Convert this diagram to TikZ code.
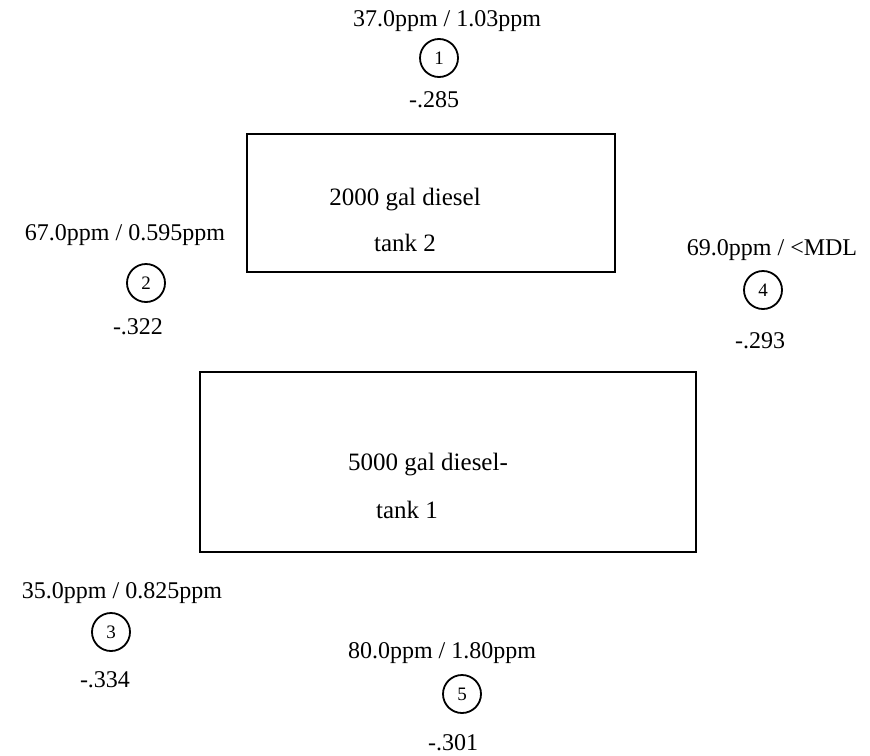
\documentclass[tikz,border=0pt]{standalone}
\usepackage{fontspec}
\setmainfont{Liberation Serif}
\usetikzlibrary{positioning}

\begin{document}
\begin{tikzpicture}[
    x=1pt, y=-1pt,
    on grid,
    tankbox/.style={draw, line width=1.6pt},
    well/.style={circle, draw, line width=1.8pt, minimum size=38pt, inner sep=0pt, font=\fontsize{19}{19}\selectfont},
    reading/.style={inner sep=0pt, font=\fontsize{24}{24}\selectfont},
    tanktext/.style={inner sep=0pt, font=\fontsize{25}{25}\selectfont},
]
\useasboundingbox (0,0) rectangle (870,755);

% tanks
\draw[tankbox] (247,134) rectangle (615,272);
\node[tanktext] (t2a) at (405,200) {2000 gal diesel};
\node[tanktext] (t2b) at (405,243) {tank 2};

\draw[tankbox] (200,372) rectangle (696,552);
\node[tanktext] (t1a) at (428,465) {5000 gal diesel-};
\node[tanktext] (t1b) at (407,510) {tank 1};

% wells
\node[well] (w1) at (439,58) {1};
\node[reading, above=37pt of w1, xshift=8pt] (r1) {37.0ppm / 1.03ppm};
\node[reading, below=42pt of w1, xshift=-5pt] (v1) {-.285};

\node[well] (w2) at (146,283) {2};
\node[reading, above=48pt of w2, xshift=-21pt] (r2) {67.0ppm / 0.595ppm};
\node[reading, below=44pt of w2, xshift=-8pt] (v2) {-.322};

\node[well] (w4) at (763,290) {4};
\node[reading, above=40pt of w4, xshift=9pt] (r4) {69.0ppm / <MDL};
\node[reading, below=51pt of w4, xshift=-3pt] (v4) {-.293};

\node[well] (w3) at (111,632) {3};
\node[reading, above=39pt of w3, xshift=11pt] (r3) {35.0ppm / 0.825ppm};
\node[reading, below=48pt of w3, xshift=-6pt] (v3) {-.334};

\node[well] (w5) at (462,694) {5};
\node[reading, above=41pt of w5, xshift=-20pt] (r5) {80.0ppm / 1.80ppm};
\node[reading, below=49pt of w5, xshift=-9pt] (v5) {-.301};

\end{tikzpicture}
\end{document}
